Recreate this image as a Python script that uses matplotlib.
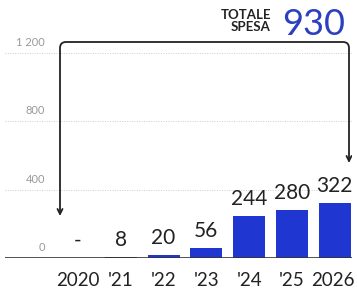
import numpy as np
import matplotlib
matplotlib.use("Agg")
import matplotlib.pyplot as plt
from matplotlib.path import Path
from matplotlib.patches import FancyArrowPatch

years = ["2020", "'21", "'22", "'23", "'24", "'25", "2026"]
spesa = [0, 8, 20, 56, 244, 280, 322]
value_labels = ["-", "8", "20", "56", "244", "280", "322"]
y_ticks = [0, 400, 800, 1200]
y_tick_labels = ["0", "400", "800", "1 200"]
totale = "930"

blue = "#1f36d0"
plt.rcParams["font.family"] = ["Lato", "DejaVu Sans"]

W, H = 357, 292
fig = plt.figure(figsize=(W / 100, H / 100), dpi=100)
# axes in pixel coords: x 5..352, baseline at y=258 from top
px_per_unit = 0.171
ax_top = 20
ax = fig.add_axes([5 / W, (H - 258) / H, 347 / W, (258 - ax_top) / H])
ax.set_xlim((5 - 78) / 42.8, (352 - 78) / 42.8)
ax.set_ylim(0, (258 - ax_top) / px_per_unit)
ax.axis("off")

x = np.arange(len(years))
colors = ["#333333" if v < 10 else blue for v in spesa]
ax.bar(x, spesa, width=0.75, color=colors, zorder=3)

# baseline + dotted grid
ax.axhline(0, color="#333333", lw=1.2, zorder=4)
for t in y_ticks[1:]:
    ax.axhline(t, color="#cccccc", lw=0.7, ls=(0, (1, 1.5)), zorder=1)
for t, lab in zip(y_ticks, y_tick_labels):
    ax.text((45 - 78) / 42.8, t + 5 / px_per_unit, lab, ha="right", va="bottom",
            fontsize=8, color="#999999")

for xi, v, lab, yr_lab in zip(x, spesa, value_labels, years):
    ax.text(xi, v + 7 / px_per_unit, lab, ha="center", va="bottom",
            fontsize=15, color="#222222")
    ax.text(xi - (0.04 if yr_lab == "2026" else 0), -14 / px_per_unit, yr_lab,
            ha="center", va="top", fontsize=13.5, color="#222222", clip_on=False)

# bracket arrow
xl, xr = (60 - 78) / 42.8, (349 - 78) / 42.8
ytop = (258 - 42) / px_per_unit
yl, yr = (258 - 216) / px_per_unit, (258 - 163) / px_per_unit
rx, ry = 6 / 42.8, 6 / px_per_unit
verts = [(xl, yl), (xl, ytop - ry), (xl, ytop), (xl + rx, ytop),
         (xr - rx, ytop), (xr, ytop), (xr, ytop - ry), (xr, yr)]
codes = [Path.MOVETO, Path.LINETO, Path.CURVE3, Path.CURVE3,
         Path.LINETO, Path.CURVE3, Path.CURVE3, Path.LINETO]
arr = FancyArrowPatch(path=Path(verts, codes), arrowstyle="<->",
                      mutation_scale=9, lw=1.3, color="#222222", zorder=5)
ax.add_patch(arr)

fig.text(271 / W, (H - 21) / H, "TOTALE\nSPESA", ha="right", va="center",
         fontsize=9.5, fontweight="bold", color="#222222", linespacing=0.95)
fig.text(282 / W, (H - 35) / H, totale, ha="left", va="baseline",
         fontsize=26, fontweight="normal", color="#2b3fbf")

fig.savefig("out.png", dpi=100)
